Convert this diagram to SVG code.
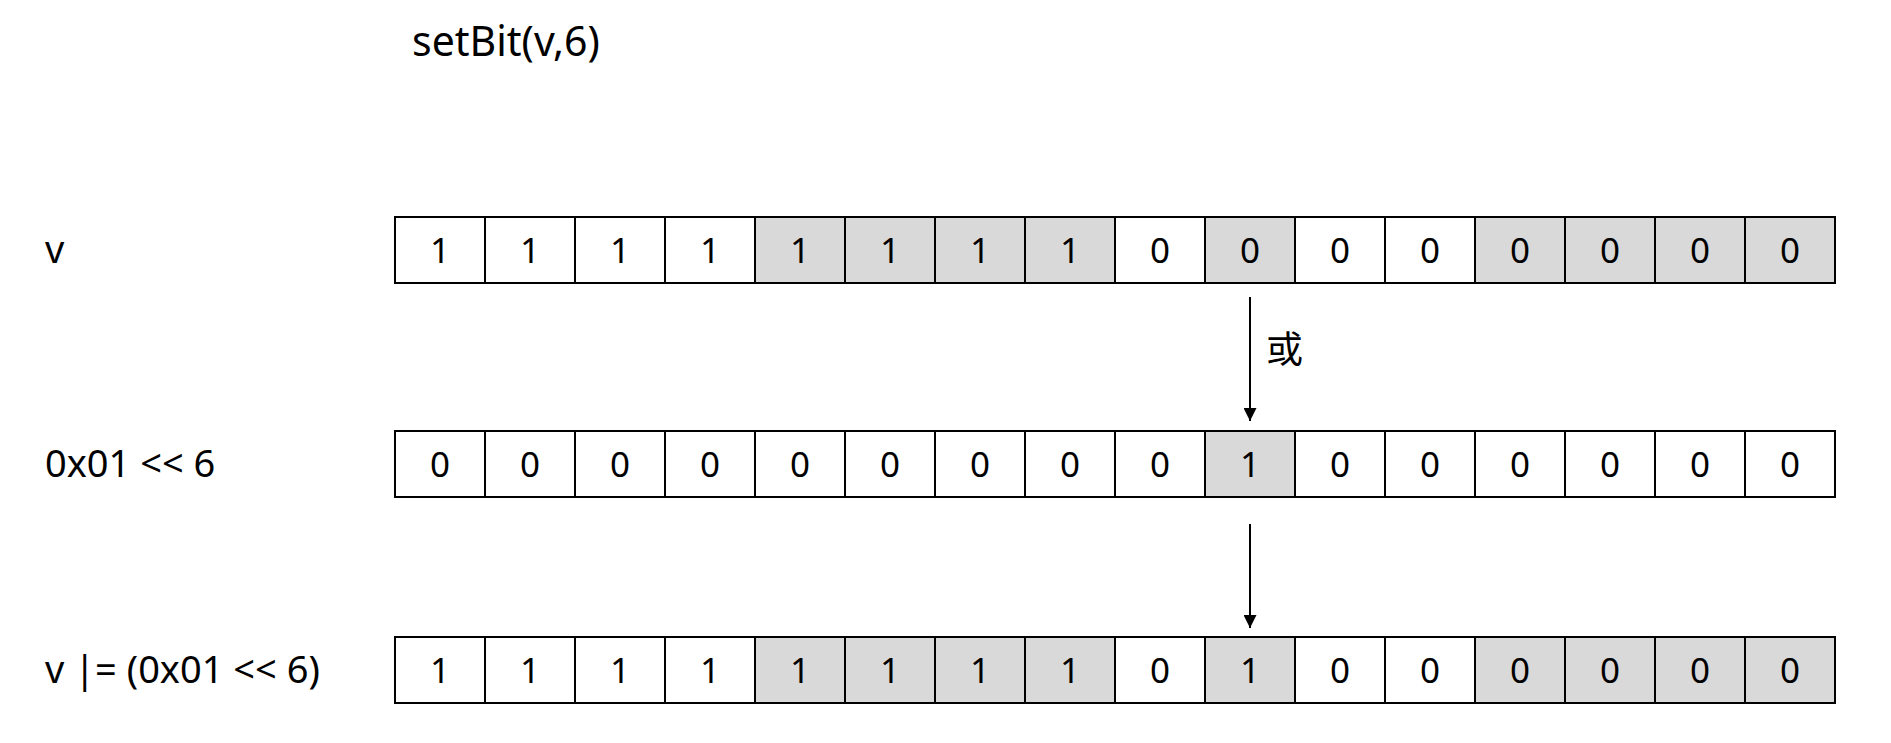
<svg xmlns="http://www.w3.org/2000/svg" width="1891" height="743" viewBox="0 0 1891 743">
<defs>
<style>
.t{font-family:"Noto Sans","Noto Sans CJK SC",sans-serif;fill:#000}
.lbl{font-size:38px}
.ttl{font-size:41px}
.c{font-size:35px;text-anchor:middle}
.w{fill:#fff;stroke:#000;stroke-width:2}
.g{fill:#d9d9d9;stroke:#000;stroke-width:2}
.ln{stroke:#000;stroke-width:2;fill:none}
</style>
<marker id="ah" viewBox="0 0 10 10" refX="10" refY="5" markerWidth="6.5" markerHeight="6.5" markerUnits="strokeWidth" orient="auto">
<path d="M0,0 L10,5 L0,10 z" fill="#000"/>
</marker>
</defs>
<rect width="1891" height="743" fill="#fff"/>
<text id="title" class="t ttl" x="412" y="56">setBit(v,6)</text>

<g id="row-v">
<text class="t lbl" x="45" y="263">v</text>
<rect class="w" x="395" y="217" width="90" height="66"/>
<rect class="w" x="485" y="217" width="90" height="66"/>
<rect class="w" x="575" y="217" width="90" height="66"/>
<rect class="w" x="665" y="217" width="90" height="66"/>
<rect class="g" x="755" y="217" width="90" height="66"/>
<rect class="g" x="845" y="217" width="90" height="66"/>
<rect class="g" x="935" y="217" width="90" height="66"/>
<rect class="g" x="1025" y="217" width="90" height="66"/>
<rect class="w" x="1115" y="217" width="90" height="66"/>
<rect class="g" x="1205" y="217" width="90" height="66"/>
<rect class="w" x="1295" y="217" width="90" height="66"/>
<rect class="w" x="1385" y="217" width="90" height="66"/>
<rect class="g" x="1475" y="217" width="90" height="66"/>
<rect class="g" x="1565" y="217" width="90" height="66"/>
<rect class="g" x="1655" y="217" width="90" height="66"/>
<rect class="g" x="1745" y="217" width="90" height="66"/>
<g class="t c">
<text x="440" y="263">1</text><text x="530" y="263">1</text><text x="620" y="263">1</text><text x="710" y="263">1</text>
<text x="800" y="263">1</text><text x="890" y="263">1</text><text x="980" y="263">1</text><text x="1070" y="263">1</text>
<text x="1160" y="263">0</text><text x="1250" y="263">0</text><text x="1340" y="263">0</text><text x="1430" y="263">0</text>
<text x="1520" y="263">0</text><text x="1610" y="263">0</text><text x="1700" y="263">0</text><text x="1790" y="263">0</text>
</g>
</g>

<g id="row-mask">
<text class="t lbl" x="45" y="477">0x01 &lt;&lt; 6</text>
<rect class="w" x="395" y="431" width="90" height="66"/>
<rect class="w" x="485" y="431" width="90" height="66"/>
<rect class="w" x="575" y="431" width="90" height="66"/>
<rect class="w" x="665" y="431" width="90" height="66"/>
<rect class="w" x="755" y="431" width="90" height="66"/>
<rect class="w" x="845" y="431" width="90" height="66"/>
<rect class="w" x="935" y="431" width="90" height="66"/>
<rect class="w" x="1025" y="431" width="90" height="66"/>
<rect class="w" x="1115" y="431" width="90" height="66"/>
<rect class="g" x="1205" y="431" width="90" height="66"/>
<rect class="w" x="1295" y="431" width="90" height="66"/>
<rect class="w" x="1385" y="431" width="90" height="66"/>
<rect class="w" x="1475" y="431" width="90" height="66"/>
<rect class="w" x="1565" y="431" width="90" height="66"/>
<rect class="w" x="1655" y="431" width="90" height="66"/>
<rect class="w" x="1745" y="431" width="90" height="66"/>
<g class="t c">
<text x="440" y="477">0</text><text x="530" y="477">0</text><text x="620" y="477">0</text><text x="710" y="477">0</text>
<text x="800" y="477">0</text><text x="890" y="477">0</text><text x="980" y="477">0</text><text x="1070" y="477">0</text>
<text x="1160" y="477">0</text><text x="1250" y="477">1</text><text x="1340" y="477">0</text><text x="1430" y="477">0</text>
<text x="1520" y="477">0</text><text x="1610" y="477">0</text><text x="1700" y="477">0</text><text x="1790" y="477">0</text>
</g>
</g>

<g id="row-result">
<text class="t lbl" x="45" y="683">v |= (0x01 &lt;&lt; 6)</text>
<rect class="w" x="395" y="637" width="90" height="66"/>
<rect class="w" x="485" y="637" width="90" height="66"/>
<rect class="w" x="575" y="637" width="90" height="66"/>
<rect class="w" x="665" y="637" width="90" height="66"/>
<rect class="g" x="755" y="637" width="90" height="66"/>
<rect class="g" x="845" y="637" width="90" height="66"/>
<rect class="g" x="935" y="637" width="90" height="66"/>
<rect class="g" x="1025" y="637" width="90" height="66"/>
<rect class="w" x="1115" y="637" width="90" height="66"/>
<rect class="g" x="1205" y="637" width="90" height="66"/>
<rect class="w" x="1295" y="637" width="90" height="66"/>
<rect class="w" x="1385" y="637" width="90" height="66"/>
<rect class="g" x="1475" y="637" width="90" height="66"/>
<rect class="g" x="1565" y="637" width="90" height="66"/>
<rect class="g" x="1655" y="637" width="90" height="66"/>
<rect class="g" x="1745" y="637" width="90" height="66"/>
<g class="t c">
<text x="440" y="683">1</text><text x="530" y="683">1</text><text x="620" y="683">1</text><text x="710" y="683">1</text>
<text x="800" y="683">1</text><text x="890" y="683">1</text><text x="980" y="683">1</text><text x="1070" y="683">1</text>
<text x="1160" y="683">0</text><text x="1250" y="683">1</text><text x="1340" y="683">0</text><text x="1430" y="683">0</text>
<text x="1520" y="683">0</text><text x="1610" y="683">0</text><text x="1700" y="683">0</text><text x="1790" y="683">0</text>
</g>
</g>

<g id="connectors">
<line class="ln" x1="1250" y1="297" x2="1250" y2="421" marker-end="url(#ah)"/>
<text class="t" x="1266" y="363" font-size="37" font-family="'Noto Sans CJK SC',sans-serif">或</text>
<line class="ln" x1="1250" y1="524" x2="1250" y2="628" marker-end="url(#ah)"/>
</g>
</svg>
